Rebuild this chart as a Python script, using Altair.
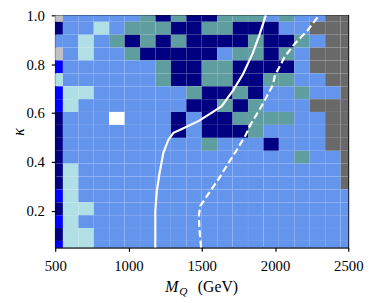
import altair as alt
import pandas as pd

# ---- data ----
x_centers = [500.0, 605.3, 710.5, 815.8, 921.1, 1026.3, 1131.6, 1236.8, 1342.1, 1447.4,
             1552.6, 1657.9, 1763.2, 1868.4, 1973.7, 2078.9, 2184.2, 2289.5, 2394.7, 2500.0]
y_centers = [0.050, 0.103, 0.156, 0.208, 0.261, 0.314, 0.367, 0.419, 0.472, 0.525,
             0.578, 0.631, 0.683, 0.736, 0.789, 0.842, 0.894, 0.947, 1.000]

# one letter per cell, rows listed from kappa = 1.0 (top) down to kappa = 0.05 (bottom)
grid_rows = [
    "SCCCCCTNTNNTTTCTCCGG",
    "NCCPCTTTNNTTNNNCCGGG",
    "CCPCTNTNTNNNNTNNTCGG",
    "SCPCCTNNNNNCTTNTCGGG",
    "BCCCCCCTNNTTNNNNCGGG",
    "PCCCCCCTNNTTNNTTCCGG",
    "BPPCCCCCCTNNTNCCTCCG",
    "BPCCCCCCCNNTNTCCCGGG",
    "NCCCWCCCNCNNTTTTCCGG",
    "NCCCCCCCNCNNNTCCCCGG",
    "NCCCCCCCCCTCCCNCCCGG",
    "NCCCCCCCCCCCCCCCTCCG",
    "NPCCCCCCCCCCCCCCCCCG",
    "NPCCCCCCCCCCCCCCCCCG",
    "BPCCCCCCCCCCCCCCCCCC",
    "NPPCCCCCCCCCCCCCCCCC",
    "BPCCCCCCCCCCCCCCCCCC",
    "NPPCCCCCCCCCCCCCCCCC",
    "BPPCCCCCCCCCCCCCCCCC",
]
codes = ["C", "N", "T", "P", "B", "S", "G", "W"]
code_colors = ["#6495ED", "#000080", "#5F9EA0", "#B0E0E6", "#0000FF", "#C0C0C0", "#696969", "#FFFFFF"]

solid_x = [1183, 1183, 1193, 1213, 1238, 1272, 1307, 1368, 1480, 1569, 1636, 1714, 1781, 1848, 1892, 1937]
solid_y = [0.05, 0.20, 0.279, 0.358, 0.437, 0.490, 0.519, 0.536, 0.568, 0.602, 0.628, 0.693, 0.759, 0.845, 0.917, 1.0]

dashed_x = [1495, 1485, 1480, 1490, 1550, 1617, 1685, 1740, 1800, 1830, 1905, 1955, 1985, 2000, 2040, 2065, 2135, 2220, 2300]
dashed_y = [0.05, 0.12, 0.18, 0.22, 0.273, 0.332, 0.398, 0.45, 0.51, 0.55, 0.625, 0.68, 0.715, 0.755, 0.80, 0.83, 0.884, 0.937, 1.0]

x_ticks = [500, 1000, 1500, 2000, 2500]
y_ticks = [0.2, 0.4, 0.6, 0.8, 1.0]
x_domain = [500, 2500]
y_domain = [0.05, 1.0]

# ---- build tables ----
def edges(centers, lo, hi):
    mids = [(a + b) / 2 for a, b in zip(centers[:-1], centers[1:])]
    return [lo] + mids + [hi]

xe = edges(x_centers, x_domain[0], x_domain[1])
ye = edges(y_centers, y_domain[0], y_domain[1])

recs = []
n_rows = len(y_centers)
for r, row in enumerate(grid_rows):
    j = n_rows - 1 - r
    for i, code in enumerate(row):
        recs.append({"code": code, "x0": xe[i], "x1": xe[i + 1], "y0": ye[j], "y1": ye[j + 1]})
cells = pd.DataFrame(recs)

solid = pd.DataFrame({"x": solid_x, "y": solid_y, "o": range(len(solid_x))})
dashed = pd.DataFrame({"x": dashed_x, "y": dashed_y, "o": range(len(dashed_x))})

FONT = "Liberation Serif"

xs = alt.Scale(domain=x_domain, nice=False, zero=False)
ys = alt.Scale(domain=y_domain, nice=False, zero=False)

rects = alt.Chart(cells).mark_rect(stroke="#ffffff", strokeOpacity=0.06, strokeWidth=0.6).encode(
    x=alt.X("x0:Q", scale=xs,
            axis=alt.Axis(values=x_ticks, format="d", title=None, labelFont=FONT, labelFontSize=15,
                          labelColor="black", tickColor="black", domainColor="black", tickSize=4,
                          labelPadding=7, grid=False, labelFlush=False)),
    x2="x1:Q",
    y=alt.Y("y0:Q", scale=ys,
            axis=alt.Axis(values=y_ticks, format=".1f", title="κ", labelFont=FONT, labelFontSize=15,
                          labelColor="black", tickColor="black", domainColor="black", tickSize=4,
                          labelPadding=7, grid=False, labelFlush=False,
                          titleFont=FONT, titleFontSize=16, titleFontStyle="italic",
                          titleFontWeight="normal", titleColor="black",
                          titleX=-37, titleY=118, titleAlign="center", titleBaseline="middle")),
    y2="y1:Q",
    color=alt.Color("code:N", scale=alt.Scale(domain=codes, range=code_colors), legend=None),
)

solid_line = alt.Chart(solid).mark_line(color="white", strokeWidth=2.2).encode(
    x=alt.X("x:Q", scale=xs), y=alt.Y("y:Q", scale=ys), order="o:Q")

dashed_line = alt.Chart(dashed).mark_line(color="white", strokeWidth=2.2, strokeDash=[7, 3.5]).encode(
    x=alt.X("x:Q", scale=xs), y=alt.Y("y:Q", scale=ys), order="o:Q")

t_m = alt.Chart(pd.DataFrame({"t": ["M"]})).mark_text(
    font=FONT, fontSize=16, fontStyle="italic", align="left", baseline="alphabetic", color="black"
).encode(x=alt.value(112), y=alt.value(281), text="t:N")
t_q = alt.Chart(pd.DataFrame({"t": ["Q"]})).mark_text(
    font=FONT, fontSize=11.5, fontStyle="italic", align="left", baseline="alphabetic", color="black"
).encode(x=alt.value(126), y=alt.value(284), text="t:N")
t_gev = alt.Chart(pd.DataFrame({"t": ["(GeV)"]})).mark_text(
    font=FONT, fontSize=16, align="left", baseline="alphabetic", color="black"
).encode(x=alt.value(145), y=alt.value(281), text="t:N")

chart = alt.layer(rects, solid_line, dashed_line, t_m, t_q, t_gev).properties(
    width=298, height=236,
    autosize=alt.AutoSizeParams(type="none"),
    padding={"left": 48, "top": 5, "right": 18, "bottom": 52},
).configure_view(stroke="black", strokeWidth=1.2).configure_axis(domainWidth=1.2, tickWidth=1.2)

chart.save("out.html", embed_options={"renderer": "svg", "actions": False})
